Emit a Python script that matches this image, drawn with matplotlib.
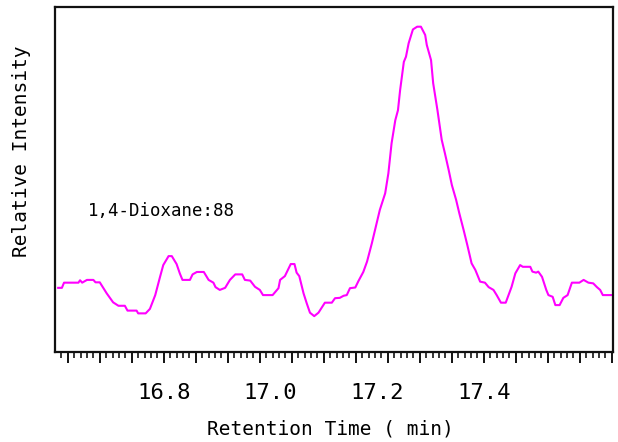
import matplotlib
matplotlib.use("Agg")
import matplotlib.pyplot as plt
import numpy as np

plt.rcParams['font.family'] = ['DejaVu Sans Mono']

# retention time (min) and relative intensity (%)
rt = [16.602, 16.609, 16.613, 16.640, 16.643, 16.647, 16.656, 16.668, 16.672, 16.680,
      16.687, 16.693, 16.699, 16.705, 16.715, 16.727, 16.732, 16.749, 16.752, 16.766,
      16.774, 16.784, 16.793, 16.799, 16.809, 16.815, 16.824, 16.830, 16.835, 16.849,
      16.854, 16.862, 16.875, 16.884, 16.893, 16.897, 16.905, 16.915, 16.924, 16.934,
      16.947, 16.952, 16.962, 16.971, 16.980, 16.986, 17.004, 17.015, 17.018, 17.027,
      17.038, 17.045, 17.049, 17.054, 17.062, 17.068, 17.074, 17.082, 17.090, 17.102,
      17.115, 17.121, 17.130, 17.137, 17.143, 17.149, 17.159, 17.165, 17.174, 17.181,
      17.190, 17.199, 17.205, 17.215, 17.221, 17.227, 17.234, 17.239, 17.243, 17.250,
      17.254, 17.259, 17.267, 17.275, 17.282, 17.290, 17.293, 17.301, 17.305, 17.313,
      17.321, 17.327, 17.334, 17.340, 17.348, 17.354, 17.362, 17.369, 17.377, 17.384,
      17.393, 17.402, 17.409, 17.418, 17.424, 17.432, 17.441, 17.452, 17.459, 17.468,
      17.473, 17.487, 17.491, 17.498, 17.502, 17.509, 17.517, 17.521, 17.529, 17.534,
      17.542, 17.549, 17.557, 17.565, 17.579, 17.587, 17.596, 17.605, 17.612, 17.618,
      17.623, 17.643]
intensity = [18.6, 18.6, 20.1, 20.1, 20.8, 20.1, 20.9, 20.9, 20.2, 20.2,
             18.5, 17.0, 15.7, 14.4, 13.4, 13.4, 12.0, 12.0, 11.2, 11.2,
             12.5, 16.5, 21.8, 25.2, 27.8, 27.8, 25.5, 22.8, 20.9, 20.9,
             22.5, 23.2, 23.2, 20.9, 20.1, 18.8, 18.0, 18.6, 20.9, 22.5,
             22.5, 20.9, 20.7, 18.9, 18.0, 16.5, 16.5, 18.5, 20.9, 22.0,
             25.5, 25.5, 23.0, 22.0, 17.0, 14.1, 11.4, 10.4, 11.4, 14.3,
             14.3, 15.6, 15.7, 16.3, 16.5, 18.5, 18.7, 20.6, 23.2, 26.2,
             31.5, 37.3, 41.2, 46.0, 51.8, 60.5, 67.2, 70.1, 75.9, 84.1,
             85.6, 89.5, 93.5, 94.3, 94.3, 91.9, 89.0, 84.6, 77.9, 70.1,
             61.5, 57.6, 52.8, 48.4, 44.1, 40.2, 35.4, 31.0, 25.7, 23.8,
             20.4, 20.1, 18.8, 18.0, 16.5, 14.3, 14.3, 18.9, 22.8, 25.2,
             24.7, 24.7, 23.3, 23.0, 23.3, 21.8, 18.0, 16.5, 16.0, 13.6,
             13.6, 15.7, 16.5, 20.1, 20.1, 20.9, 20.1, 19.9, 18.8, 18.0,
             16.5, 16.5]

label_ticks = [16.8, 17.0, 17.2, 17.4]
compound = "1,4-Dioxane:88"

fig = plt.figure(figsize=(6.18, 4.42), dpi=100)
ax = fig.add_axes([0.0898, 0.2036, 0.9029, 0.7805])

ax.plot(rt, intensity, color="#ff00ff", lw=1.5)
ax.set_xlim(16.597, 17.643)
ax.set_ylim(0, 100)

for s in ax.spines.values():
    s.set_linewidth(1.6)
    s.set_color("#111111")

ax.set_yticks([])
ax.set_xticks(np.arange(16.62, 17.65, 0.06))
ax.set_xticks(np.arange(16.608, 17.645, 0.012), minor=True)
ax.tick_params(axis="x", which="major", length=8, width=1.3, direction="out", labelbottom=False)
ax.tick_params(axis="x", which="minor", length=4.5, width=1.1, direction="out")

# labelled times sit on their own axis, as in the instrument output
sec = ax.secondary_xaxis("bottom")
sec.set_xticks(label_ticks)
sec.set_xticklabels([f"{v:.1f}" for v in label_ticks])
sec.tick_params(length=0, pad=22, labelsize=16)
sec.spines["bottom"].set_visible(False)

ax.set_xlabel("Retention Time ( min)", fontsize=14)
ax.xaxis.set_label_coords(0.492, -0.197)
ax.set_ylabel("Relative Intensity", fontsize=14)
ax.yaxis.set_label_coords(-0.044, 0.583)

ax.text(16.658, 40.9, compound, fontsize=12.5, va="center", ha="left")

fig.savefig("out.png", dpi=100)
